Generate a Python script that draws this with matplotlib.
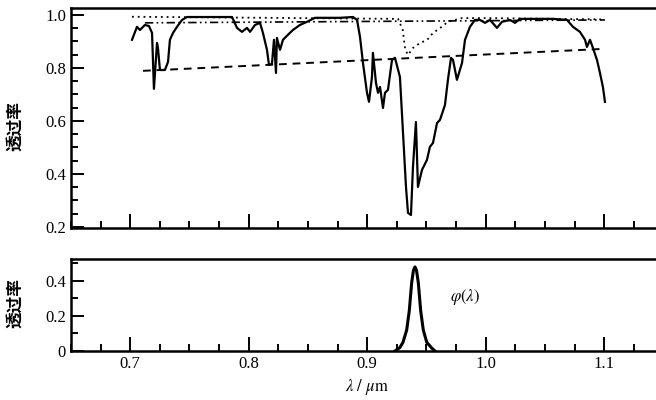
import numpy as np
import matplotlib
matplotlib.use("Agg")
import matplotlib.pyplot as plt
from matplotlib.ticker import MultipleLocator

plt.rcParams['font.family'] = ['Liberation Serif', 'Noto Sans CJK SC']
plt.rcParams['mathtext.fontset'] = 'stix'

# 实测透过率曲线 (波长 µm, 透过率)
lam_meas = [0.7015, 0.7057, 0.7082, 0.7124, 0.7158, 0.7184, 0.7200, 0.7226, 0.7234, 0.7251,
            0.7293, 0.7319, 0.7335, 0.7361, 0.7395, 0.7437, 0.7479, 0.7859, 0.7901, 0.7943,
            0.7985, 0.8011, 0.8053, 0.8095, 0.8120, 0.8154, 0.8171, 0.8196, 0.8213, 0.8230,
            0.8238, 0.8264, 0.8289, 0.8331, 0.8373, 0.8432, 0.8492, 0.8559, 0.8660, 0.8770,
            0.8880, 0.8914, 0.8939, 0.8964, 0.8998, 0.9015, 0.9040, 0.9048, 0.9074, 0.9091,
            0.9108, 0.9133, 0.9150, 0.9175, 0.9209, 0.9234, 0.9276, 0.9302, 0.9327, 0.9344,
            0.9369, 0.9386, 0.9411, 0.9428, 0.9462, 0.9504, 0.9529, 0.9555, 0.9589, 0.9614,
            0.9656, 0.9681, 0.9707, 0.9724, 0.9757, 0.9800, 0.9825, 0.9867, 0.9909, 0.9951,
            0.9994, 1.0036, 1.0095, 1.0137, 1.0205, 1.0247, 1.0289, 1.0432, 1.0567, 1.0686,
            1.0736, 1.0795, 1.0838, 1.0854, 1.0880, 1.0905, 1.0939, 1.0964, 1.0989, 1.1006]
t_meas = [0.906, 0.955, 0.943, 0.962, 0.958, 0.932, 0.721, 0.894, 0.875, 0.792,
          0.792, 0.823, 0.906, 0.932, 0.955, 0.981, 0.992, 0.992, 0.951, 0.936,
          0.951, 0.936, 0.962, 0.970, 0.932, 0.868, 0.811, 0.815, 0.906, 0.781,
          0.913, 0.868, 0.906, 0.925, 0.943, 0.962, 0.974, 0.989, 0.989, 0.989,
          0.992, 0.981, 0.917, 0.819, 0.706, 0.672, 0.766, 0.857, 0.743, 0.706,
          0.728, 0.649, 0.706, 0.717, 0.830, 0.838, 0.766, 0.555, 0.351, 0.253,
          0.245, 0.426, 0.596, 0.351, 0.415, 0.453, 0.502, 0.517, 0.592, 0.604,
          0.660, 0.755, 0.838, 0.830, 0.755, 0.819, 0.906, 0.955, 0.981, 0.981,
          0.970, 0.981, 0.951, 0.974, 0.981, 0.970, 0.985, 0.985, 0.985, 0.981,
          0.955, 0.936, 0.906, 0.879, 0.906, 0.875, 0.830, 0.781, 0.728, 0.672]

# 虚线 (背景)
lam_dash = [0.7108, 1.1006]
t_dash = [0.789, 0.872]

# 点划线
lam_dashdot = [0.7124, 1.1006]
t_dashdot = [0.970, 0.981]

# 点线 (含 0.94 µm 吸收)
lam_dot = [0.7015, 0.9260, 0.9300, 0.9320, 0.9344, 0.9386, 0.9445, 0.9504, 0.9555, 0.9614,
           0.9681, 0.9800, 1.0000, 1.1006]
t_dot = [0.993, 0.985, 0.943, 0.870, 0.849, 0.875, 0.894, 0.905, 0.932, 0.950,
         0.974, 0.988, 0.988, 0.983]

# 滤光片响应 φ(λ)
lam_phi = [0.9234, 0.9276, 0.9302, 0.9333, 0.9355, 0.9375, 0.9390, 0.9403, 0.9416, 0.9431,
           0.9451, 0.9473, 0.9502, 0.9544, 0.9572]
phi = [0.0, 0.02, 0.05, 0.12, 0.23, 0.39, 0.46, 0.48, 0.46, 0.39,
       0.23, 0.12, 0.05, 0.017, 0.0]

xticks = [0.7, 0.8, 0.9, 1.0, 1.1]

fig = plt.figure(figsize=(6.56, 4.0), dpi=100)
ax1 = fig.add_axes([0.1082, 0.43, 0.9032, 0.55])
ax2 = fig.add_axes([0.1082, 0.1225, 0.9032, 0.23])

ax1.plot(lam_meas, t_meas, color='black', lw=1.6)
ax1.plot(lam_dash, t_dash, color='black', lw=1.4, linestyle=(0, (4, 3)))
ax1.plot(lam_dashdot, t_dashdot, color='black', lw=1.2, linestyle=(0, (5, 2, 1, 2, 1, 2)))
ax1.plot(lam_dot, t_dot, color='black', lw=1.3, linestyle=(0, (1, 2.2)))

ax2.plot(lam_phi, phi, color='black', lw=2.2)
ax2.text(0.9825, 0.31, r'$\varphi(\lambda)$', fontsize=12, ha='center', va='center')

for ax in (ax1, ax2):
    ax.set_xlim(0.65, 1.15)
    ax.xaxis.set_major_locator(MultipleLocator(0.1))
    ax.xaxis.set_minor_locator(MultipleLocator(0.025))
    ax.spines['right'].set_visible(False)
    for s in ('left', 'top', 'bottom'):
        ax.spines[s].set_linewidth(1.8)
    ax.tick_params(which='both', direction='in', top=False, right=False, width=1.4,
                   labelsize=12, pad=3.5)
    ax.tick_params(axis='x', which='major', length=10)
    ax.tick_params(axis='x', which='minor', length=5)
    ax.tick_params(axis='y', which='major', length=9)
    ax.tick_params(axis='y', which='minor', length=5)

ax1.set_ylim(0.196, 1.026)
ax1.set_yticks([0.2, 0.4, 0.6, 0.8, 1.0])
ax1.yaxis.set_minor_locator(MultipleLocator(0.05))
ax1.tick_params(axis='x', labelbottom=False)

ax2.set_ylim(0, 0.525)
ax2.set_yticks([0, 0.2, 0.4])
ax2.set_yticklabels(['0', '0.2', '0.4'])
ax2.yaxis.set_minor_locator(MultipleLocator(0.1))
ax2.set_xticks(xticks)
ax2.set_xticklabels(['0.7', '0.8', '0.9', '1.0', '1.1'])
ax2.set_xlabel(r'$\lambda\ /\ \mu\mathrm{m}$', fontsize=12, labelpad=4)

fig.text(15 / 656, 1 - 126 / 400, '透过率', rotation=90, fontsize=12, fontweight='bold',
         ha='center', va='center', family=['Noto Sans CJK SC', 'DejaVu Sans'])
fig.text(15 / 656, 1 - 303 / 400, '透过率', rotation=90, fontsize=12, fontweight='bold',
         ha='center', va='center', family=['Noto Sans CJK SC', 'DejaVu Sans'])

fig.savefig('out.png', dpi=100)
